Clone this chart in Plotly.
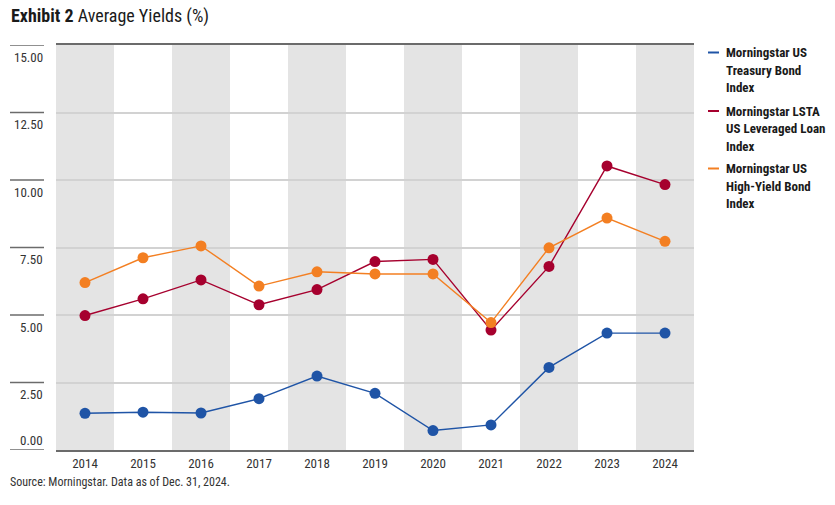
import plotly.graph_objects as go

years = [2014, 2015, 2016, 2017, 2018, 2019, 2020, 2021, 2022, 2023, 2024]
treasury = [1.36, 1.40, 1.37, 1.90, 2.74, 2.10, 0.72, 0.93, 3.06, 4.33, 4.33]
leveraged_loan = [4.98, 5.60, 6.30, 5.38, 5.94, 6.98, 7.06, 4.44, 6.80, 10.52, 9.83]
high_yield = [6.20, 7.12, 7.56, 6.07, 6.60, 6.52, 6.52, 4.72, 7.49, 8.59, 7.73]

series_names = [
    ["Morningstar US", "Treasury Bond", "Index"],
    ["Morningstar LSTA", "US Leveraged Loan", "Index"],
    ["Morningstar US", "High-Yield Bond", "Index"],
]
series_values = [treasury, leveraged_loan, high_yield]
colors = ["#1f54a6", "#a6002e", "#f37f22"]

y_ticks = [0, 2.5, 5, 7.5, 10, 12.5, 15]
y_tick_labels = ["0.00", "2.50", "5.00", "7.50", "10.00", "12.50", "15.00"]

title_bold = "Exhibit 2"
title_rest = "Average Yields (%)"
source_text = "Source: Morningstar. Data as of Dec. 31, 2024."

FONT = "Roboto Condensed, Liberation Sans Narrow, Roboto, sans-serif"

W, H = 835, 505
L, R, T, B = 56, 141, 45, 55
PW = W - L - R
PH = H - T - B


def px_x(px):
    return (px - L) / PW


def px_y(py):
    return (H - B - py) / PH


fig = go.Figure()

for name, vals, col in zip(series_names, series_values, colors):
    fig.add_trace(go.Scatter(
        x=years, y=vals, mode="lines+markers",
        name=" ".join(name),
        line=dict(color=col, width=1.4),
        marker=dict(color=col, size=11),
        showlegend=False,
        cliponaxis=False,
    ))

shapes = []
# alternating shaded bands
for i, yr in enumerate(years):
    if i % 2 == 0:
        shapes.append(dict(type="rect", xref="x", yref="y domain",
                           x0=yr - 0.5, x1=yr + 0.5, y0=0, y1=1,
                           fillcolor="#e4e4e4", line=dict(width=0), layer="below"))

# left-side tick marker lines
for v in y_ticks:
    shapes.append(dict(type="line", xref="paper", yref="y",
                       x0=px_x(10), x1=px_x(44), y0=v, y1=v,
                       line=dict(color="#6b6b6b", width=1.5)))

annotations = []
for v, lab in zip(y_ticks, y_tick_labels):
    annotations.append(dict(xref="paper", yref="y", x=px_x(45), y=v, text=lab,
                            xanchor="right", yanchor="middle",
                            yshift=10 if v == 0 else -12, showarrow=False,
                            font=dict(family=FONT, size=13, color="#333333")))

# manual legend
item_tops = [52.5, 111, 168.5]
line_gap = 17.7
for names, col, top in zip(series_names, colors, item_tops):
    shapes.append(dict(type="line", xref="paper", yref="paper",
                       x0=px_x(708), x1=px_x(719), y0=px_y(top), y1=px_y(top),
                       line=dict(color=col, width=2)))
    for j, t in enumerate(names):
        annotations.append(dict(xref="paper", yref="paper", x=px_x(724), y=px_y(top + j * line_gap),
                                text="<b>" + t + "</b>", xanchor="left", yanchor="middle",
                                showarrow=False,
                                font=dict(family=FONT, size=13, color="#1a1a1a")))

# title
annotations.append(dict(xref="paper", yref="paper", x=px_x(9), y=px_y(16),
                        text="<b>" + title_bold + "</b> " + title_rest,
                        xanchor="left", yanchor="middle", showarrow=False,
                        font=dict(family=FONT, size=18, color="#1a1a1a")))
# source
annotations.append(dict(xref="paper", yref="paper", x=px_x(8), y=px_y(482),
                        text=source_text, xanchor="left", yanchor="middle", showarrow=False,
                        font=dict(family=FONT, size=12, color="#333333")))

fig.update_layout(
    width=W, height=H, autosize=False,
    margin=dict(l=L, r=R, t=T, b=B),
    paper_bgcolor="white", plot_bgcolor="white",
    shapes=shapes, annotations=annotations,
    xaxis=dict(range=[2013.5, 2024.5], tickvals=years, ticktext=[str(y) for y in years],
               showgrid=False, zeroline=False, showline=True, mirror=True,
               linecolor="#6b6b6b", linewidth=1.5, ticks="", ticklabelstandoff=1,
               tickfont=dict(family=FONT, size=13, color="#333333")),
    yaxis=dict(range=[0, 15], tickvals=y_ticks, showticklabels=False,
               showgrid=True, gridcolor="#d2d2d2", gridwidth=1.5,
               zeroline=False, showline=False),
    showlegend=False,
)

fig.write_html("out.html")
